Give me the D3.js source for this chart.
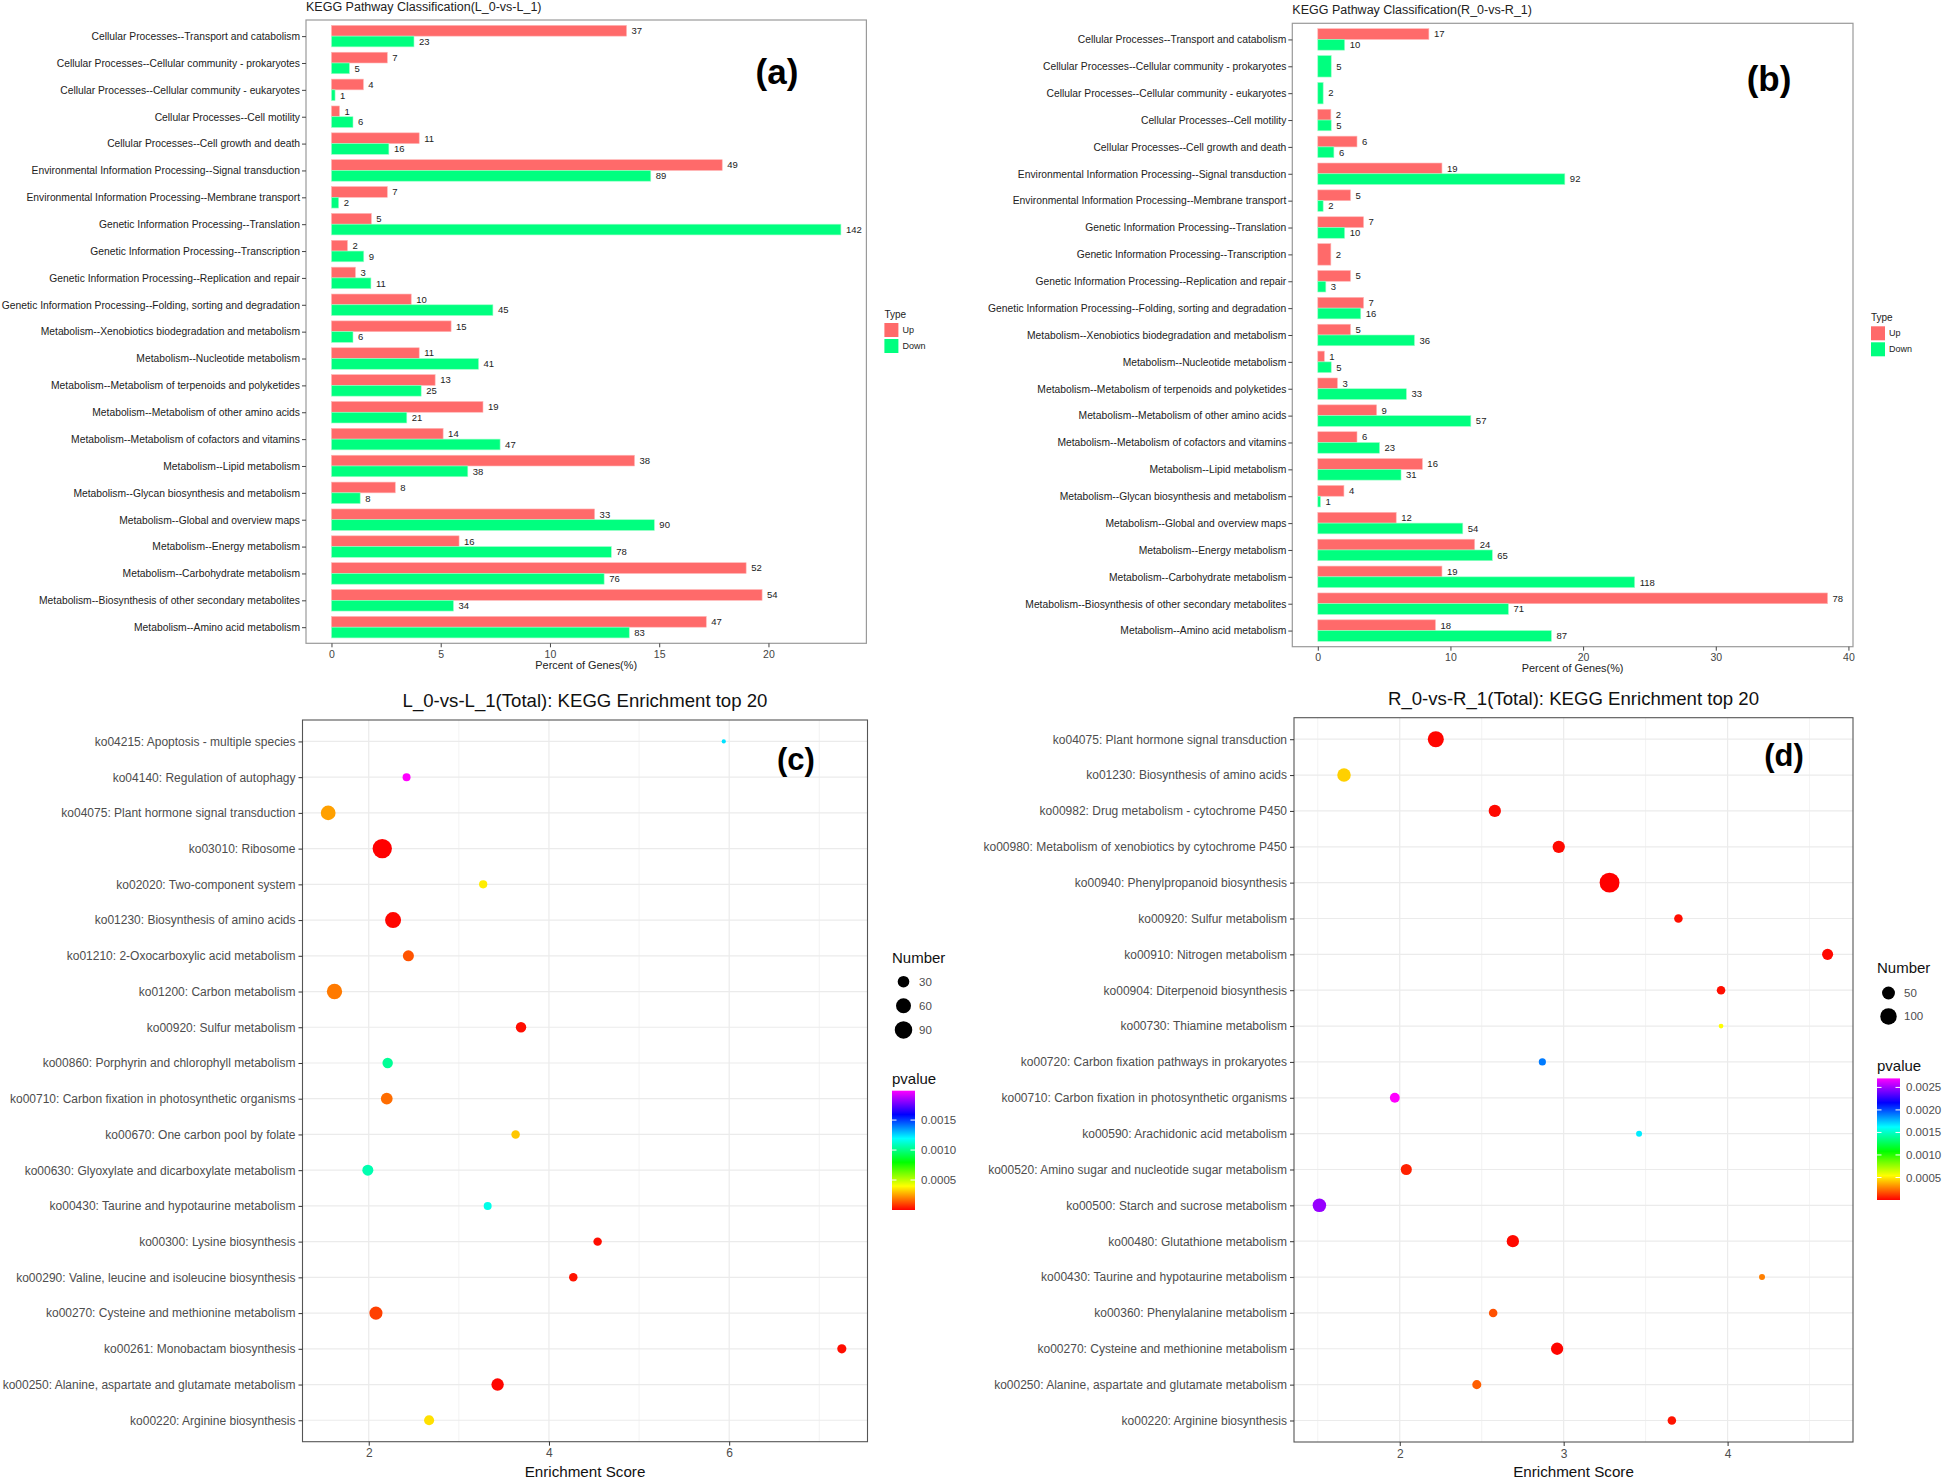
<!DOCTYPE html>
<html><head><meta charset="utf-8">
<script src="https://cdn.jsdelivr.net/npm/d3@7"></script>
<style>
body{margin:0;background:#fff}
svg{display:block}
text{font-family:"Liberation Sans",Arial,Helvetica,sans-serif}
</style>
</head><body>
<svg id="chart" width="1946" height="1481"></svg>
<script>
// ---------------- DATA ----------------
const classCategories = [
"Cellular Processes--Transport and catabolism",
"Cellular Processes--Cellular community - prokaryotes",
"Cellular Processes--Cellular community - eukaryotes",
"Cellular Processes--Cell motility",
"Cellular Processes--Cell growth and death",
"Environmental Information Processing--Signal transduction",
"Environmental Information Processing--Membrane transport",
"Genetic Information Processing--Translation",
"Genetic Information Processing--Transcription",
"Genetic Information Processing--Replication and repair",
"Genetic Information Processing--Folding, sorting and degradation",
"Metabolism--Xenobiotics biodegradation and metabolism",
"Metabolism--Nucleotide metabolism",
"Metabolism--Metabolism of terpenoids and polyketides",
"Metabolism--Metabolism of other amino acids",
"Metabolism--Metabolism of cofactors and vitamins",
"Metabolism--Lipid metabolism",
"Metabolism--Glycan biosynthesis and metabolism",
"Metabolism--Global and overview maps",
"Metabolism--Energy metabolism",
"Metabolism--Carbohydrate metabolism",
"Metabolism--Biosynthesis of other secondary metabolites",
"Metabolism--Amino acid metabolism"];

const upCountsL   = [37,7,4,1,11,49,7,5,2,3,10,15,11,13,19,14,38,8,33,16,52,54,47];
const downCountsL = [23,5,1,6,16,89,2,142,9,11,45,6,41,25,21,47,38,8,90,78,76,34,83];
const upTotalL = 274, downTotalL = 609;

const upCountsR   = [17,0,0,2,6,19,5,7,2,5,7,5,1,3,9,6,16,4,12,24,19,78,18];
const downCountsR = [10,5,2,5,6,92,2,10,0,3,16,36,5,33,57,23,31,1,54,65,118,71,87];
const upTotalR = 203, downTotalR = 494;

const ticksL = [0,5,10,15,20];
const ticksR = [0,10,20,30,40];

const pathwaysL = [
"ko04215: Apoptosis - multiple species",
"ko04140: Regulation of autophagy",
"ko04075: Plant hormone signal transduction",
"ko03010: Ribosome",
"ko02020: Two-component system",
"ko01230: Biosynthesis of amino acids",
"ko01210: 2-Oxocarboxylic acid metabolism",
"ko01200: Carbon metabolism",
"ko00920: Sulfur metabolism",
"ko00860: Porphyrin and chlorophyll metabolism",
"ko00710: Carbon fixation in photosynthetic organisms",
"ko00670: One carbon pool by folate",
"ko00630: Glyoxylate and dicarboxylate metabolism",
"ko00430: Taurine and hypotaurine metabolism",
"ko00300: Lysine biosynthesis",
"ko00290: Valine, leucine and isoleucine biosynthesis",
"ko00270: Cysteine and methionine metabolism",
"ko00261: Monobactam biosynthesis",
"ko00250: Alanine, aspartate and glutamate metabolism",
"ko00220: Arginine biosynthesis"];
const scoreL  = [5.94,2.42,1.55,2.15,3.27,2.27,2.44,1.62,3.69,2.21,2.20,3.63,1.99,3.32,4.54,4.27,2.08,7.25,3.43,2.67];
const numberL = [3,10,58,115,11,72,26,64,22,22,31,12,26,10,12,12,42,15,36,20];
const pvalueL = [0.00124,0.00199,0.00025,0.0000001,0.00037,0.00001,0.00013,0.00019,0.00002,0.00103,0.00017,0.00031,0.00107,0.00116,0.00002,0.00003,0.0001,0.00002,0.00001,0.00035];
const ticksEnrL = [2,4,6];
const legendNumL = [30,60,90];
const legendPL = [0.0005,0.0010,0.0015];

const pathwaysR = [
"ko04075: Plant hormone signal transduction",
"ko01230: Biosynthesis of amino acids",
"ko00982: Drug metabolism - cytochrome P450",
"ko00980: Metabolism of xenobiotics by cytochrome P450",
"ko00940: Phenylpropanoid biosynthesis",
"ko00920: Sulfur metabolism",
"ko00910: Nitrogen metabolism",
"ko00904: Diterpenoid biosynthesis",
"ko00730: Thiamine metabolism",
"ko00720: Carbon fixation pathways in prokaryotes",
"ko00710: Carbon fixation in photosynthetic organisms",
"ko00590: Arachidonic acid metabolism",
"ko00520: Amino sugar and nucleotide sugar metabolism",
"ko00500: Starch and sucrose metabolism",
"ko00480: Glutathione metabolism",
"ko00430: Taurine and hypotaurine metabolism",
"ko00360: Phenylalanine metabolism",
"ko00270: Cysteine and methionine metabolism",
"ko00250: Alanine, aspartate and glutamate metabolism",
"ko00220: Arginine biosynthesis"];
const scoreR  = [2.22,1.66,2.58,2.97,3.28,3.70,4.61,3.96,3.96,2.87,1.97,3.46,2.04,1.51,2.69,4.21,2.57,2.96,2.47,3.66];
const numberR = [93,57,43,43,165,13,31,13,3,7,21,4,31,57,43,4,13,43,16,13];
const pvalueR = [0.00001,0.00044,0.00002,0.00002,0.0000001,0.00003,0.00002,0.00003,0.00054,0.0019,0.0027,0.00166,0.00007,0.00248,0.00002,0.00027,0.00017,0.00001,0.0002,0.00004];
const ticksEnrR = [2,3,4];
const legendNumR = [50,100];
const legendPR = [0.0005,0.0010,0.0015,0.0020,0.0025];

// ---------------- DRAW ----------------
const svg = d3.select("#chart");
const COL_UP = "#FF6A6A", COL_DOWN = "#00FF7F";
const SANS = '"Liberation Sans", Arial, Helvetica, sans-serif';
const SERIF = '"Liberation Serif", "Times New Roman", serif';
let gradId = 0;

function barPanel(o){
  const g = svg.append("g");
  const upPct = o.up.map(v => v / o.upTotal * 100);
  const downPct = o.down.map(v => v / o.downTotal * 100);
  const maxPct = d3.max(upPct.concat(downPct));
  const pad = maxPct * 0.05;
  const x = d3.scaleLinear().domain([-pad, maxPct + pad]).range([o.left, o.right]);
  const y = d3.scalePoint().domain(o.cats).range([o.top, o.bottom]).padding(0.6);
  const bw = y.step() * 0.8;

  g.append("text").attr("x", o.left).attr("y", o.titleY)
    .attr("font-size", 12.5).attr("fill", "#222").text(o.title);

  const bars = [];
  o.cats.forEach((c, i) => {
    const yc = y(c);
    const both = o.up[i] > 0 && o.down[i] > 0;
    if (o.up[i] > 0) bars.push({type:"Up", n:o.up[i], p:upPct[i], y0: yc - bw/2, h: both ? bw/2 : bw});
    if (o.down[i] > 0) bars.push({type:"Down", n:o.down[i], p:downPct[i], y0: both ? yc : yc - bw/2, h: both ? bw/2 : bw});
  });

  g.selectAll("rect.bar").data(bars).join("rect").attr("class","bar")
    .attr("x", x(0)).attr("y", d => d.y0)
    .attr("width", d => x(d.p) - x(0)).attr("height", d => d.h)
    .attr("fill", d => d.type === "Up" ? COL_UP : COL_DOWN)
    .attr("stroke", d => d.type === "Up" ? "#FFB5B5" : "#9CFFC8").attr("stroke-width", 0.6);

  g.selectAll("text.val").data(bars).join("text").attr("class","val")
    .attr("x", d => x(d.p) + 5).attr("y", d => d.y0 + d.h/2)
    .attr("dy", "0.35em").attr("font-size", 9.5).attr("fill", "#222")
    .text(d => d.n);

  g.append("rect").attr("x", o.left).attr("y", o.top)
    .attr("width", o.right - o.left).attr("height", o.bottom - o.top)
    .attr("fill", "none").attr("stroke", "#9a9a9a").attr("stroke-width", 1.2);

  const xa = g.append("g").attr("transform", `translate(0,${o.bottom})`)
    .call(d3.axisBottom(x).tickValues(o.ticks).tickSize(4).tickPadding(3).tickFormat(d3.format("d")));
  xa.select(".domain").remove();
  xa.selectAll("line").attr("stroke", "#444");
  xa.selectAll("text").attr("font-size", 10.5).attr("fill", "#444").attr("font-family", SANS);

  const ya = g.append("g").attr("transform", `translate(${o.left},0)`)
    .call(d3.axisLeft(y).tickSize(4).tickPadding(2));
  ya.select(".domain").remove();
  ya.selectAll("line").attr("stroke", "#444");
  ya.selectAll("text").attr("font-size", 10.3).attr("fill", "#222").attr("font-family", SANS);

  g.append("text").attr("x", (o.left + o.right)/2).attr("y", o.axisTitleY)
    .attr("text-anchor", "middle").attr("dy", "0.35em")
    .attr("font-size", 10.9).attr("fill", "#222").text("Percent of Genes(%)");

  g.append("text").attr("x", o.labelX).attr("y", o.labelY).attr("dy", "0.35em")
    .attr("text-anchor", "middle").attr("font-size", 35).attr("font-weight", "bold")
    .attr("font-family", SERIF).text(o.label);

  // legend
  const lx = o.right + 18, ly = o.top;
  g.append("text").attr("x", lx).attr("y", ly + 294).attr("dy", "0.35em")
    .attr("font-size", 10).attr("fill", "#222").text("Type");
  [["Up", COL_UP], ["Down", COL_DOWN]].forEach((t, i) => {
    g.append("rect").attr("x", lx).attr("y", ly + 303 + i*16).attr("width", 14).attr("height", 14)
      .attr("fill", t[1]);
    g.append("text").attr("x", lx + 18).attr("y", ly + 310 + i*16).attr("dy", "0.35em")
      .attr("font-size", 9).attr("fill", "#222").text(t[0]);
  });
}

function dotPanel(o){
  const g = svg.append("g");
  const ext = d3.extent(o.score);
  const span = ext[1] - ext[0];
  const x = d3.scaleLinear().domain([ext[0] - 0.05*span, ext[1] + 0.05*span]).range([o.left, o.right]);
  const y = d3.scalePoint().domain(o.paths).range([o.top, o.bottom]).padding(0.6);
  const nExt = d3.extent(o.number);
  const norm = d3.scaleLinear().domain(nExt).range([0,1]).clamp(true);
  const diam = d3.scaleLinear().domain([0,1]).range([o.dMin, o.dMax]);
  const radius = n => diam(Math.sqrt(norm(n))) / 2;
  const pExt = d3.extent(o.pvalue);
  const color = d3.scaleSequential(t => d3.hsl(300*t, 1, 0.5).toString()).domain(pExt);

  g.append("text").attr("x", (o.left + o.right)/2).attr("y", o.titleY).attr("dy", "0.35em")
    .attr("text-anchor", "middle").attr("font-size", 18.6).attr("fill", "#111").text(o.title);

  // grid
  const dom = x.domain();
  const majors = x.ticks(o.tickCount).filter(v => v >= dom[0] && v <= dom[1]);
  const step = majors[1] - majors[0];
  const minors = d3.range(Math.floor(dom[0]/step)*step + step/2, dom[1], step).filter(v => v >= dom[0]);
  g.selectAll("line.minor").data(minors).join("line").attr("class","minor")
    .attr("x1", d => x(d)).attr("x2", d => x(d)).attr("y1", o.top).attr("y2", o.bottom)
    .attr("stroke", "#EBEBEB").attr("stroke-width", 0.6);
  g.selectAll("line.major").data(majors).join("line").attr("class","major")
    .attr("x1", d => x(d)).attr("x2", d => x(d)).attr("y1", o.top).attr("y2", o.bottom)
    .attr("stroke", "#EBEBEB").attr("stroke-width", 1.2);
  g.selectAll("line.hmajor").data(o.paths).join("line").attr("class","hmajor")
    .attr("x1", o.left).attr("x2", o.right).attr("y1", d => y(d)).attr("y2", d => y(d))
    .attr("stroke", "#EBEBEB").attr("stroke-width", 1.2);

  const pts = o.paths.map((p, i) => ({p, s:o.score[i], n:o.number[i], pv:o.pvalue[i]}));
  g.selectAll("circle.pt").data(pts).join("circle").attr("class","pt")
    .attr("cx", d => x(d.s)).attr("cy", d => y(d.p)).attr("r", d => radius(d.n))
    .attr("fill", d => color(d.pv));

  g.append("rect").attr("x", o.left).attr("y", o.top)
    .attr("width", o.right - o.left).attr("height", o.bottom - o.top)
    .attr("fill", "none").attr("stroke", "#555").attr("stroke-width", 1.1);

  const xa = g.append("g").attr("transform", `translate(0,${o.bottom})`)
    .call(d3.axisBottom(x).tickValues(o.ticks).tickSize(4).tickPadding(3).tickFormat(d3.format("d")));
  xa.select(".domain").remove();
  xa.selectAll("line").attr("stroke", "#333");
  xa.selectAll("text").attr("font-size", 12).attr("fill", "#4D4D4D").attr("font-family", SANS);

  const ya = g.append("g").attr("transform", `translate(${o.left},0)`)
    .call(d3.axisLeft(y).tickSize(4).tickPadding(3));
  ya.select(".domain").remove();
  ya.selectAll("line").attr("stroke", "#333");
  ya.selectAll("text").attr("font-size", o.yFont).attr("fill", "#4D4D4D").attr("font-family", SANS);

  g.append("text").attr("x", (o.left + o.right)/2).attr("y", o.axisTitleY).attr("dy", "0.35em")
    .attr("text-anchor", "middle").attr("font-size", 15.2).attr("fill", "#111").text("Enrichment Score");

  g.append("text").attr("x", o.labelX).attr("y", o.labelY).attr("dy", "0.35em")
    .attr("text-anchor", "middle").attr("font-size", 31).attr("font-weight", "bold")
    .attr("font-family", SERIF).text(o.label);

  // size legend
  const L = o.legend;
  g.append("text").attr("x", L.x).attr("y", L.numTitleY).attr("dy", "0.35em")
    .attr("font-size", 15).attr("fill", "#111").text("Number");
  o.legendNum.forEach((n, i) => {
    const cy = L.numY0 + i * L.numStep;
    g.append("circle").attr("cx", L.x + 11.5).attr("cy", cy).attr("r", radius(n)).attr("fill", "#000");
    g.append("text").attr("x", L.x + 27).attr("y", cy).attr("dy", "0.35em")
      .attr("font-size", 11.5).attr("fill", "#4D4D4D").text(n);
  });

  // colour bar
  g.append("text").attr("x", L.x).attr("y", L.pTitleY).attr("dy", "0.35em")
    .attr("font-size", 15).attr("fill", "#111").text("pvalue");
  const id = "grad" + (gradId++);
  const grad = svg.append("defs").append("linearGradient").attr("id", id)
    .attr("x1", 0).attr("y1", 1).attr("x2", 0).attr("y2", 0);
  d3.range(0, 1.0001, 0.05).forEach(t => {
    grad.append("stop").attr("offset", t).attr("stop-color", color(pExt[0] + t*(pExt[1]-pExt[0])));
  });
  const barW = 23;
  g.append("rect").attr("x", L.x).attr("y", L.barTop).attr("width", barW)
    .attr("height", L.barBottom - L.barTop).attr("fill", `url(#${id})`);
  const py = d3.scaleLinear().domain(pExt).range([L.barBottom, L.barTop]);
  o.legendP.forEach(v => {
    const yy = py(v);
    g.append("line").attr("x1", L.x).attr("x2", L.x + 4.5).attr("y1", yy).attr("y2", yy).attr("stroke", "#fff");
    g.append("line").attr("x1", L.x + barW - 4.5).attr("x2", L.x + barW).attr("y1", yy).attr("y2", yy).attr("stroke", "#fff");
    g.append("text").attr("x", L.x + barW + 6).attr("y", yy).attr("dy", "0.35em")
      .attr("font-size", 11.5).attr("fill", "#4D4D4D").text(d3.format(".4f")(v));
  });
}

barPanel({cats: classCategories, up: upCountsL, down: downCountsL, upTotal: upTotalL, downTotal: downTotalL,
  left: 306, right: 866.4, top: 20, bottom: 643.3, ticks: ticksL,
  title: "KEGG Pathway Classification(L_0-vs-L_1)", titleY: 11, axisTitleY: 665,
  label: "(a)", labelX: 777, labelY: 72});

barPanel({cats: classCategories, up: upCountsR, down: downCountsR, upTotal: upTotalR, downTotal: downTotalR,
  left: 1292.3, right: 1853, top: 23.3, bottom: 646.7, ticks: ticksR,
  title: "KEGG Pathway Classification(R_0-vs-R_1)", titleY: 14, axisTitleY: 668,
  label: "(b)", labelX: 1769, labelY: 79});

dotPanel({paths: pathwaysL, score: scoreL, number: numberL, pvalue: pvalueL,
  left: 302.5, right: 867.5, top: 720, bottom: 1441.7, ticks: ticksEnrL, tickCount: 4,
  dMin: 4.2, dMax: 19.3, yFont: 12,
  title: "L_0-vs-L_1(Total): KEGG Enrichment top 20", titleY: 700.5, axisTitleY: 1471.5,
  label: "(c)", labelX: 796, labelY: 759,
  legendNum: legendNumL, legendP: legendPL,
  legend: {x: 892, numTitleY: 958, numY0: 981.7, numStep: 24.1, pTitleY: 1079,
           barTop: 1090.7, barBottom: 1210}});

dotPanel({paths: pathwaysR, score: scoreR, number: numberR, pvalue: pvalueR,
  left: 1294, right: 1853, top: 717.7, bottom: 1442, ticks: ticksEnrR, tickCount: 4,
  dMin: 4.8, dMax: 19.9, yFont: 12,
  title: "R_0-vs-R_1(Total): KEGG Enrichment top 20", titleY: 698, axisTitleY: 1472,
  label: "(d)", labelX: 1784, labelY: 755,
  legendNum: legendNumR, legendP: legendPR,
  legend: {x: 1877, numTitleY: 968, numY0: 993, numStep: 23.4, pTitleY: 1066,
           barTop: 1078.4, barBottom: 1200}});
</script>
</body></html>
